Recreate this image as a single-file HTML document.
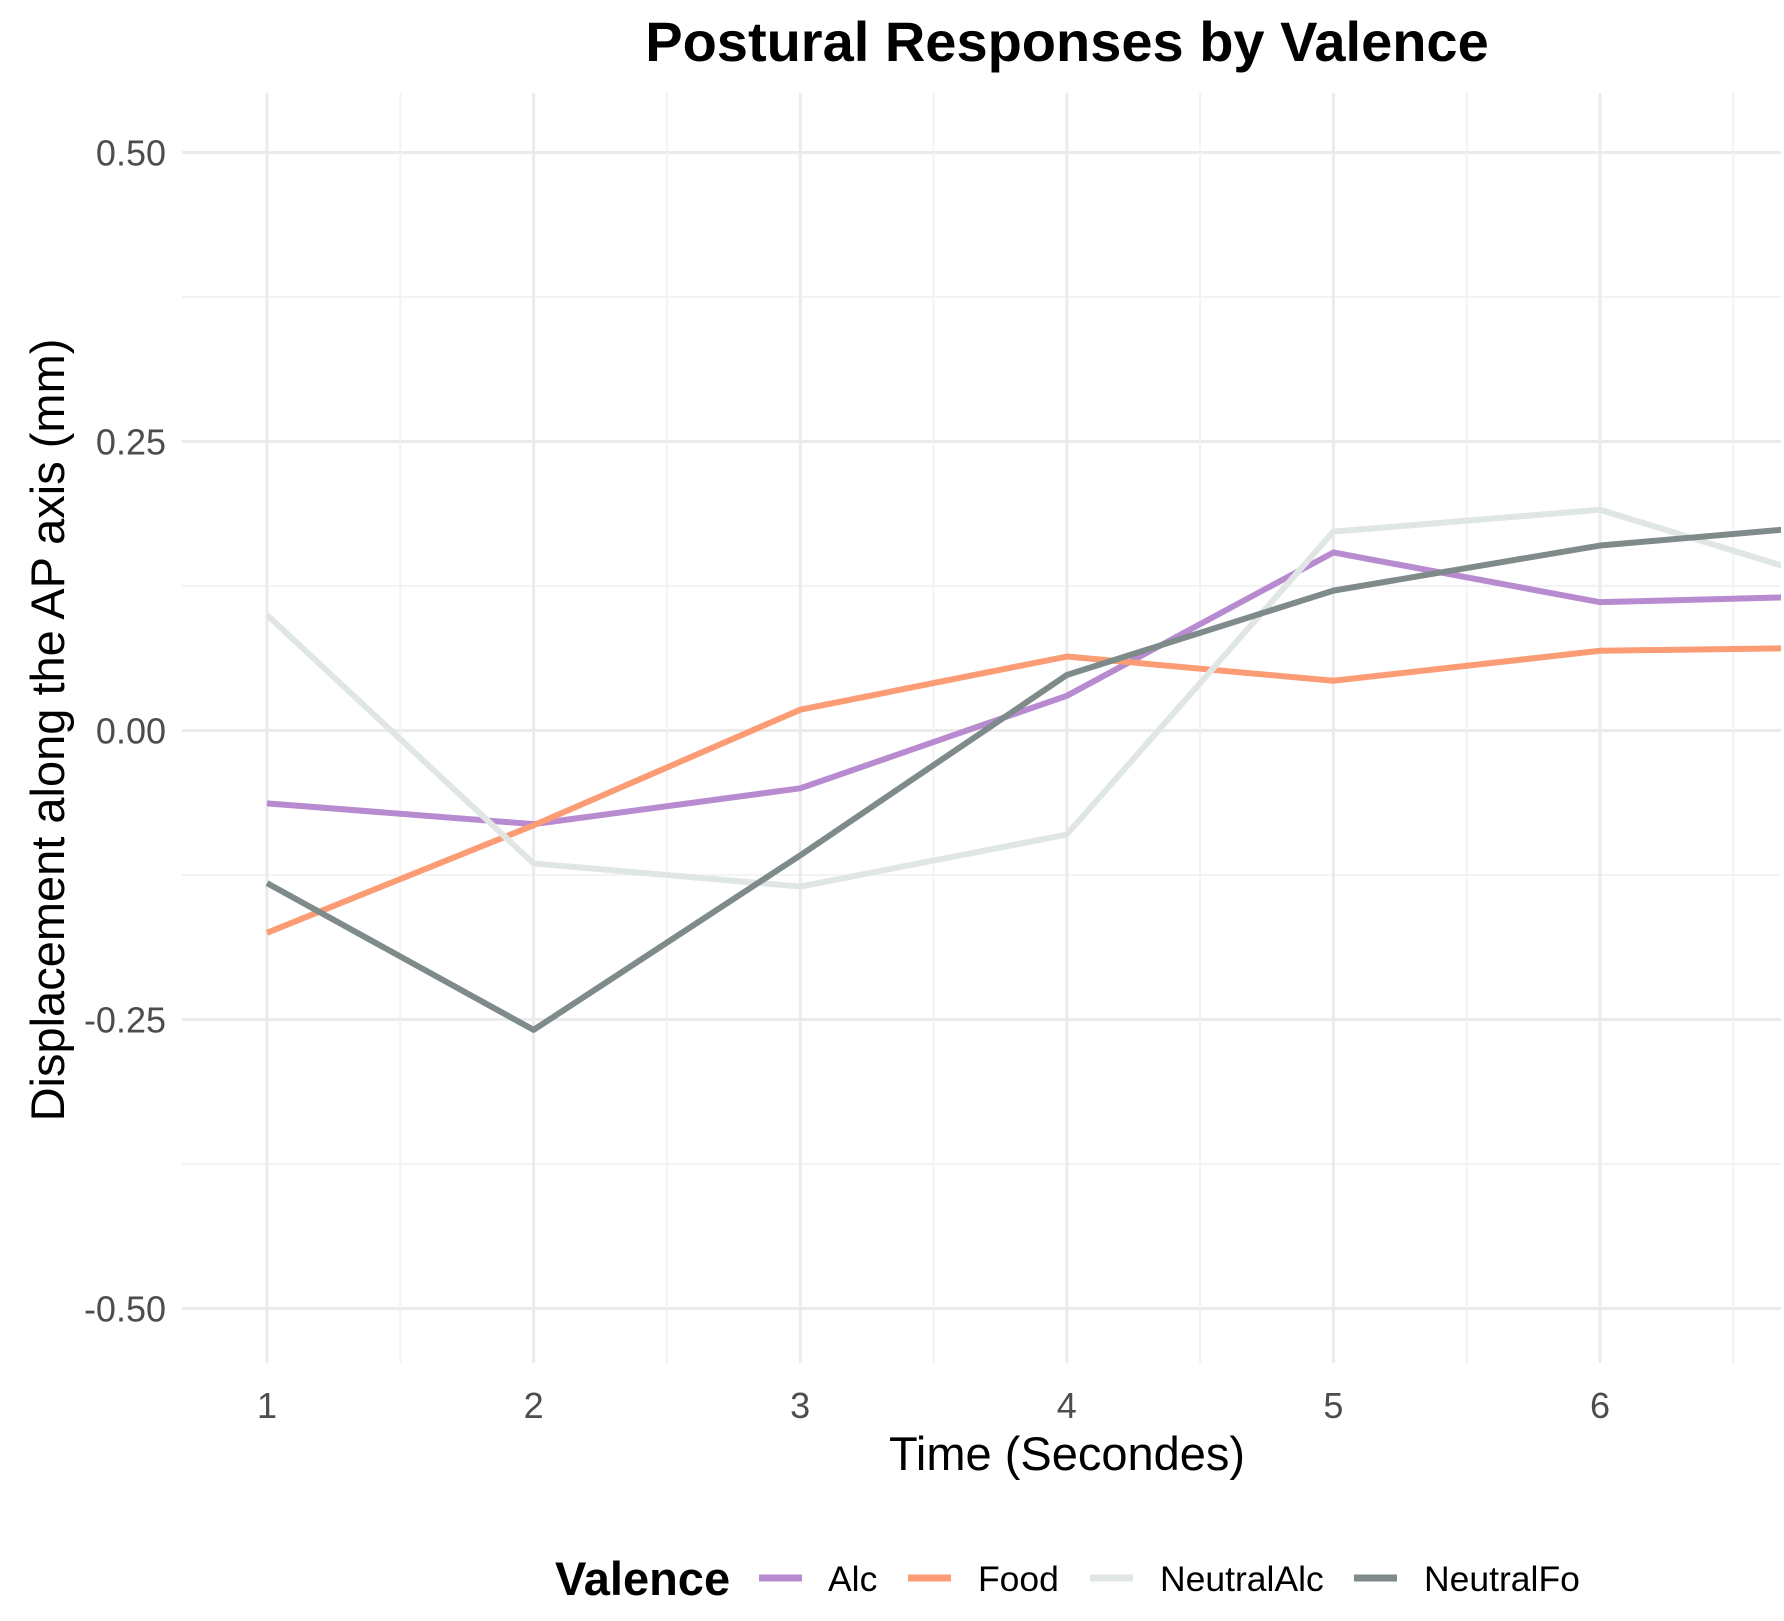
<!DOCTYPE html>
<html><head><meta charset="utf-8"><style>
body{margin:0;background:#fff;}
svg text{font-family:"Liberation Sans",sans-serif;}
</style></head><body>
<svg id="chart" width="1784" height="1616" xmlns="http://www.w3.org/2000/svg">
<defs><clipPath id="clip"><rect x="182" y="93" width="1599" height="1270"/></clipPath></defs>
<g id="grid"></g>
<g id="series" clip-path="url(#clip)"></g>
<g id="axes"></g>
<text x="1067" y="61" text-anchor="middle" font-size="56" font-weight="bold" fill="#000">Postural Responses by Valence</text>
<text x="1067" y="1470" text-anchor="middle" font-size="47" fill="#000">Time (Secondes)</text>
<text transform="translate(64,730) rotate(-90)" text-anchor="middle" font-size="47" fill="#000">Displacement along the AP axis (mm)</text>
<g id="legend">
<text x="555" y="1595" font-size="47" font-weight="bold" fill="#000">Valence</text>
</g>
</svg>
<script>
const times=[1,2,3,4,5,6,7];
const seriesNames=["Alc","Food","NeutralAlc","NeutralFo"];
const alc=[-0.063,-0.081,-0.050,0.030,0.154,0.111,0.117];
const food=[-0.175,-0.082,0.018,0.064,0.043,0.069,0.072];
const neutralAlc=[0.100,-0.115,-0.135,-0.090,0.172,0.191,0.120];
const neutralFo=[-0.132,-0.259,-0.108,0.048,0.121,0.160,0.180];
const yTicks=[-0.5,-0.25,0,0.25,0.5];
const yTickLabels=["-0.50","-0.25","0.00","0.25","0.50"];
const xTicks=[1,2,3,4,5,6];
const colors=["#b88bd0","#fc9c74","#dfe6e3","#7f8b8b"];
const ns="http://www.w3.org/2000/svg";
const X=v=>267+(v-1)*266.6;
const Y=v=>730.5-v*1156;
function mk(tag,attrs,parent){const e=document.createElementNS(ns,tag);for(const k in attrs)e.setAttribute(k,attrs[k]);parent.appendChild(e);return e;}
const grid=document.getElementById('grid'),axes=document.getElementById('axes'),ser=document.getElementById('series'),leg=document.getElementById('legend');
for(let v=-0.5;v<=0.5001;v+=0.125){const maj=Math.abs(v/0.25-Math.round(v/0.25))<1e-6;
const l=mk('line',{x1:182,x2:1781,y1:Y(v),y2:Y(v),stroke:maj?'#ebebeb':'#f3f3f3','stroke-width':maj?3:2},grid);
}
for(let v=1;v<=6.6;v+=0.5){const maj=Number.isInteger(v);
const l=mk('line',{x1:X(v),x2:X(v),y1:93,y2:1363,stroke:maj?'#ebebeb':'#f3f3f3','stroke-width':maj?3:2},grid);
}
yTicks.forEach((v,i)=>{const t=mk('text',{x:166,y:Y(v)+13,'text-anchor':'end','font-size':36,fill:'#4d4d4d'},axes);t.textContent=yTickLabels[i];
});
xTicks.forEach(v=>{const t=mk('text',{x:X(v),y:1418,'text-anchor':'middle','font-size':36,fill:'#4d4d4d'},axes);t.textContent=v;
});
[alc,food,neutralAlc,neutralFo].forEach((d,i)=>{const p=mk('polyline',{points:d.map((v,j)=>X(times[j])+','+Y(v)).join(' '),fill:'none',stroke:colors[i],'stroke-width':6,'stroke-linejoin':'round'},ser);
});
const keyX=[759,908,1090,1354],labX=[828,978,1160,1424];
seriesNames.forEach((n,i)=>{const k=mk('line',{x1:keyX[i],x2:keyX[i]+43,y1:1578,y2:1578,stroke:colors[i],'stroke-width':7},leg);

const t=mk('text',{x:labX[i],y:1591,'font-size':35.5,fill:'#000'},leg);t.textContent=n;
});
</script>
</body></html>
